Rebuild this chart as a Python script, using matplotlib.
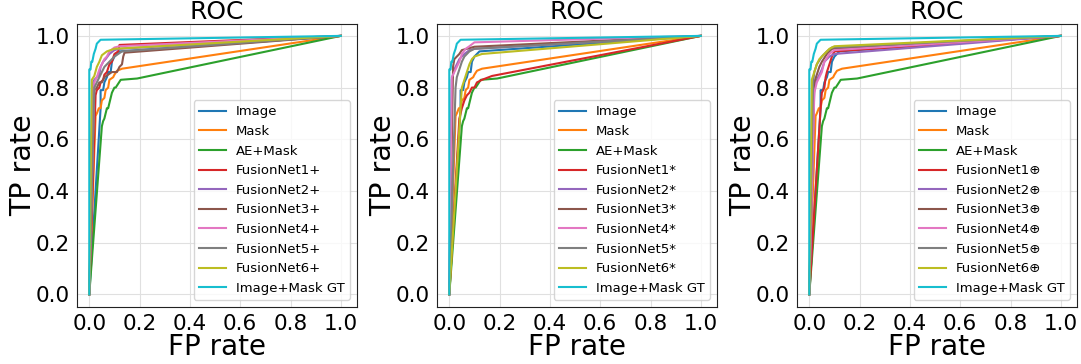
import matplotlib
matplotlib.use("Agg")
import matplotlib.pyplot as plt

# ---- baseline curves (identical in all panels) ----
image_fpr = [0, 0.045, 0.045, 0.055, 0.06, 0.07, 0.075, 0.085, 0.09, 0.10, 0.11, 0.12, 1.0]
image_tpr = [0, 0.72, 0.79, 0.79, 0.82, 0.84, 0.86, 0.86, 0.90, 0.92, 0.93, 0.94, 1.0]
mask_fpr = [0, 0.025, 0.03, 0.038, 0.045, 0.05, 0.06, 0.065, 0.075, 0.08, 0.095, 0.10, 0.11, 0.13, 1.0]
mask_tpr = [0, 0.69, 0.70, 0.72, 0.72, 0.75, 0.76, 0.79, 0.80, 0.83, 0.84, 0.85, 0.865, 0.873, 1.0]
ae_fpr = [0, 0.05, 0.055, 0.06, 0.07, 0.075, 0.085, 0.09, 0.10, 0.105, 0.115, 0.125, 0.19, 1.0]
ae_tpr = [0, 0.65, 0.67, 0.68, 0.72, 0.72, 0.76, 0.78, 0.80, 0.80, 0.815, 0.83, 0.835, 1.0]
gt_fpr = [0, 0, 0.005, 0.008, 0.012, 0.018, 0.025, 0.03, 0.04, 0.045, 1.0]
gt_tpr = [0, 0.87, 0.87, 0.90, 0.90, 0.93, 0.95, 0.97, 0.98, 0.985, 1.0]

# ---- FusionNet curves, panel 1 (+) ----
plus_fpr = [
    [0, 0.025, 0.03, 0.04, 0.045, 0.055, 0.06, 0.07, 0.08, 0.09, 0.10, 0.115, 0.12, 1.0],
    [0, 0.015, 0.02, 0.03, 0.04, 0.045, 0.055, 0.065, 0.08, 0.10, 0.12, 1.0],
    [0, 0.02, 0.03, 0.04, 0.05, 0.06, 0.075, 0.09, 0.11, 0.12, 0.13, 0.135, 0.14, 1.0],
    [0, 0.02, 0.03, 0.04, 0.05, 0.06, 0.07, 0.08, 0.10, 0.12, 1.0],
    [0, 0.02, 0.03, 0.04, 0.05, 0.06, 0.08, 0.10, 0.13, 1.0],
    [0, 0.01, 0.02, 0.03, 0.04, 0.05, 0.07, 0.10, 1.0],
]
plus_tpr = [
    [0, 0.77, 0.79, 0.80, 0.82, 0.83, 0.85, 0.86, 0.89, 0.90, 0.93, 0.94, 0.965, 1.0],
    [0, 0.82, 0.83, 0.84, 0.85, 0.88, 0.90, 0.91, 0.93, 0.945, 0.95, 1.0],
    [0, 0.79, 0.80, 0.82, 0.82, 0.84, 0.85, 0.86, 0.86, 0.88, 0.89, 0.92, 0.935, 1.0],
    [0, 0.82, 0.84, 0.87, 0.89, 0.91, 0.92, 0.94, 0.955, 0.96, 1.0],
    [0, 0.80, 0.82, 0.84, 0.86, 0.88, 0.90, 0.92, 0.94, 1.0],
    [0, 0.83, 0.845, 0.88, 0.90, 0.925, 0.94, 0.95, 1.0],
]

# ---- FusionNet curves, panel 2 (*) ----
star_fpr = [
    [0, 0.04, 0.05, 0.06, 0.07, 0.08, 0.09, 0.10, 0.11, 0.13, 0.17, 1.0],
    [0, 0.01, 0.015, 0.02, 0.03, 0.04, 0.06, 0.08, 0.10, 1.0],
    [0, 0.015, 0.02, 0.03, 0.04, 0.05, 0.07, 0.10, 1.0],
    [0, 0.01, 0.02, 0.03, 0.04, 0.05, 0.065, 0.08, 0.10, 1.0],
    [0, 0.025, 0.03, 0.04, 0.05, 0.06, 0.08, 0.10, 1.0],
    [0, 0.05, 0.06, 0.07, 0.08, 0.09, 0.10, 0.13, 1.0],
]
star_tpr = [
    [0, 0.68, 0.72, 0.75, 0.77, 0.78, 0.80, 0.80, 0.82, 0.83, 0.845, 1.0],
    [0, 0.83, 0.85, 0.87, 0.89, 0.91, 0.93, 0.945, 0.95, 1.0],
    [0, 0.88, 0.91, 0.92, 0.93, 0.945, 0.95, 0.958, 1.0],
    [0, 0.84, 0.86, 0.88, 0.90, 0.93, 0.95, 0.96, 0.975, 1.0],
    [0, 0.80, 0.84, 0.87, 0.90, 0.92, 0.94, 0.95, 1.0],
    [0, 0.80, 0.83, 0.86, 0.89, 0.91, 0.92, 0.93, 1.0],
]

# ---- FusionNet curves, panel 3 (⊕) ----
oplus_fpr = [
    [0, 0.045, 0.05, 0.06, 0.065, 0.07, 0.08, 0.09, 0.10, 1.0],
    [0, 0.02, 0.03, 0.04, 0.05, 0.06, 0.08, 0.10, 1.0],
    [0, 0.02, 0.03, 0.04, 0.05, 0.07, 0.09, 1.0],
    [0, 0.02, 0.03, 0.05, 0.06, 0.08, 0.10, 1.0],
    [0, 0.015, 0.02, 0.03, 0.05, 0.07, 0.09, 1.0],
    [0, 0.01, 0.02, 0.03, 0.04, 0.06, 0.08, 0.10, 1.0],
]
oplus_tpr = [
    [0, 0.72, 0.78, 0.80, 0.84, 0.86, 0.89, 0.92, 0.94, 1.0],
    [0, 0.80, 0.83, 0.85, 0.87, 0.90, 0.92, 0.93, 1.0],
    [0, 0.82, 0.85, 0.88, 0.90, 0.93, 0.95, 1.0],
    [0, 0.78, 0.82, 0.86, 0.90, 0.93, 0.945, 1.0],
    [0, 0.82, 0.86, 0.89, 0.92, 0.94, 0.955, 1.0],
    [0, 0.83, 0.86, 0.89, 0.91, 0.93, 0.95, 0.96, 1.0],
]

panel_suffixes = ["+", "*", "\u2295"]
panel_fpr = [plus_fpr, star_fpr, oplus_fpr]
panel_tpr = [plus_tpr, star_tpr, oplus_tpr]
ticks = [0.0, 0.2, 0.4, 0.6, 0.8, 1.0]

fig = plt.figure(figsize=(10.81, 3.64), dpi=100)
lefts = [76.7, 436.7, 796.7]
W, H = 1081.0, 364.0
for p in range(3):
    ax = fig.add_axes([lefts[p] / W, 1 - 306.7 / H, 280 / W, (306.7 - 24) / H])
    ax.plot(image_fpr, image_tpr, color="tab:blue", lw=1.5, label="Image")
    ax.plot(mask_fpr, mask_tpr, color="tab:orange", lw=1.5, label="Mask")
    ax.plot(ae_fpr, ae_tpr, color="tab:green", lw=1.5, label="AE+Mask")
    cols = ["tab:red", "tab:purple", "tab:brown", "tab:pink", "tab:gray", "tab:olive"]
    for i in range(6):
        ax.plot(panel_fpr[p][i], panel_tpr[p][i], color=cols[i], lw=1.5,
                label="FusionNet%d%s" % (i + 1, panel_suffixes[p]))
    ax.plot(gt_fpr, gt_tpr, color="tab:cyan", lw=1.5, label="Image+Mask GT")
    ax.set_xlim(-0.05, 1.063)
    ax.set_ylim(-0.048, 1.046)
    ax.set_xticks(ticks)
    ax.set_yticks(ticks)
    ax.tick_params(labelsize=15.5, length=0, pad=5)
    ax.grid(True, color="#e0e0e0", lw=0.8)
    ax.set_axisbelow(True)
    for s in ax.spines.values():
        s.set_color("#222222")
    ax.set_title("ROC", fontsize=18, pad=0)
    ax.set_xlabel("FP rate", fontsize=20, va="baseline")
    ax.xaxis.set_label_coords(0.5, -0.17)
    ax.set_ylabel("TP rate", fontsize=20.5, va="baseline")
    ax.yaxis.set_label_coords(-0.164, 0.5)
    ax.legend(loc="lower right", fontsize=9.5, labelspacing=0.5)

fig.savefig("out.png", dpi=100)
